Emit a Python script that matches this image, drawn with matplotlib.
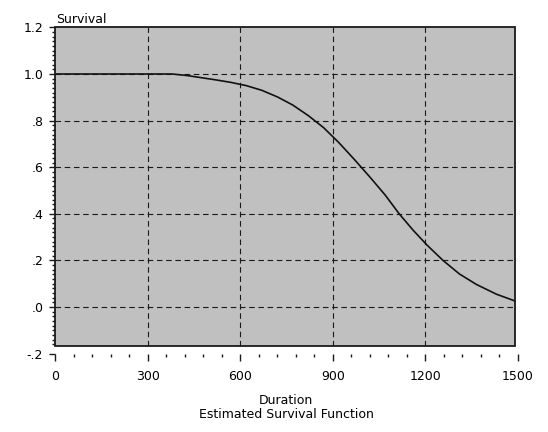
import numpy as np
import matplotlib
matplotlib.use("Agg")
import matplotlib.pyplot as plt
from matplotlib.patches import Rectangle
from matplotlib.ticker import FixedLocator

# Estimated survival curve (duration, survival probability)
duration = [0, 380, 430, 470, 520, 570, 620, 670, 720, 770, 820, 870, 920,
            970, 1020, 1070, 1115, 1160, 1205, 1257, 1310, 1365, 1430, 1490]
survival = [1.0, 1.0, 0.993, 0.985, 0.975, 0.964, 0.95, 0.93, 0.902, 0.867,
            0.822, 0.77, 0.705, 0.633, 0.558, 0.48, 0.40, 0.33, 0.266, 0.20,
            0.142, 0.097, 0.055, 0.026]

x_ticks = [0, 300, 600, 900, 1200, 1500]
x_tick_labels = ["0", "300", "600", "900", "1200", "1500"]
y_ticks = [-0.2, 0.0, 0.2, 0.4, 0.6, 0.8, 1.0, 1.2]
y_tick_labels = ["-.2", ".0", ".2", ".4", ".6", ".8", "1.0", "1.2"]

plot_xmax = 1490      # right edge of the shaded panel
plot_ymin = -0.167    # bottom edge of the shaded panel

plt.rcParams["font.family"] = ["DejaVu Sans"]

W, H = 548, 432
fig = plt.figure(figsize=(W / 100, H / 100), dpi=100)
fig.patch.set_facecolor("white")

left_px, right_px = 55, 518
top_px, bottom_px = 27.4, 353.6
ax = fig.add_axes([left_px / W, 1 - bottom_px / H,
                   (right_px - left_px) / W, (bottom_px - top_px) / H])
ax.set_xlim(0, 1500)
ax.set_ylim(-0.2, 1.2)
ax.set_facecolor("none")
for sp in ax.spines.values():
    sp.set_visible(False)

# shaded panel with frame
ax.add_patch(Rectangle((0, plot_ymin), plot_xmax, 1.2 - plot_ymin,
                       facecolor="#c0c0c0", edgecolor="none", zorder=0))
ax.add_patch(Rectangle((0, plot_ymin), plot_xmax, 1.2 - plot_ymin,
                       facecolor="none", edgecolor="#1a1a1a", lw=1.3,
                       zorder=4, clip_on=False))

# dashed grid inside the panel
grid_style = dict(colors="#1a1a1a", linewidths=0.8, linestyles=(0, (5, 3.3)),
                  zorder=1)
ax.hlines([v for v in y_ticks if 0 <= v <= 1.0], 0, plot_xmax, **grid_style)
ax.vlines([v for v in x_ticks if 0 < v < plot_xmax], plot_ymin, 1.2, **grid_style)

# survival curve
ax.plot(duration, survival, color="#111111", lw=1.2, zorder=3)

# ticks
ax.xaxis.set_major_locator(FixedLocator(x_ticks))
ax.set_xticklabels(x_tick_labels)
ax.xaxis.set_minor_locator(FixedLocator(
    [v for v in np.arange(0, 1501, 60) if v % 300 != 0]))
ax.yaxis.set_major_locator(FixedLocator(y_ticks))
ax.set_yticklabels(y_tick_labels)
ax.yaxis.set_minor_locator(FixedLocator(
    [round(v, 2) for v in np.arange(-0.16, 1.2, 0.02)
     if abs(round(v / 0.2) * 0.2 - v) > 1e-6]))

ax.tick_params(axis="x", which="major", direction="out", length=5, width=1,
               pad=7, labelsize=9, color="#1a1a1a")
ax.tick_params(axis="x", which="minor", direction="out", length=2.2, width=1,
               color="#1a1a1a")
ax.tick_params(axis="y", which="major", direction="out", length=4.5, width=1,
               pad=4, labelsize=9, color="#1a1a1a")
ax.tick_params(axis="y", which="minor", direction="out", length=2.2, width=1,
               color="#1a1a1a")

# labels
fig.text(56 / W, 1 - 23 / H, "Survival", fontsize=9, ha="left", va="baseline")
fig.text(286 / W, 1 - 404 / H, "Duration", fontsize=9, ha="center",
         va="baseline")
fig.text(286 / W, 1 - 418 / H, "Estimated Survival Function", fontsize=9,
         ha="center", va="baseline")

fig.savefig("out.png", dpi=100)
